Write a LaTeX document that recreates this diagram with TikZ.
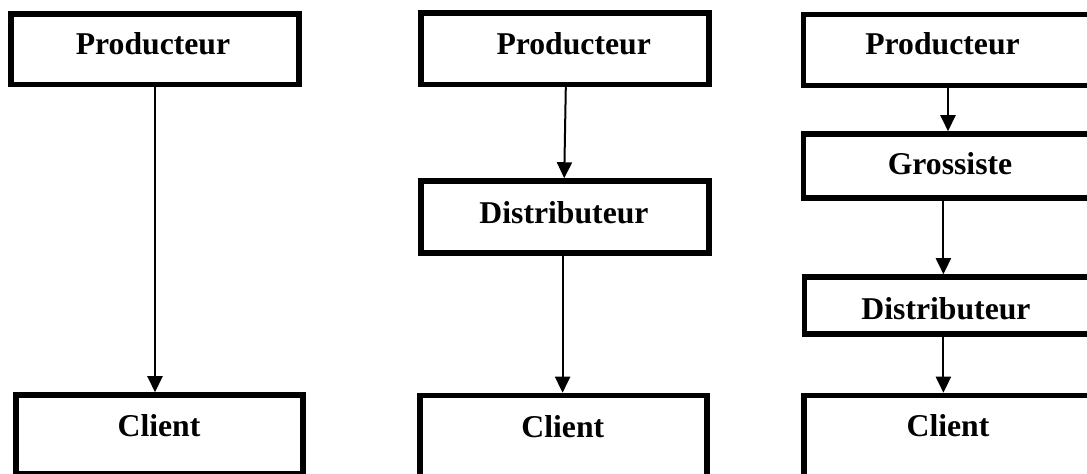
\documentclass[tikz,border=0pt]{standalone}
\usepackage{fontspec}
\setmainfont{Liberation Serif}
\usetikzlibrary{arrows.meta}
\begin{document}
\begin{tikzpicture}[x=0.5pt,y=-0.5pt,
  box/.style={draw=black,line width=2.75pt,fill=white,rectangle,inner sep=0pt},
  lbl/.style={font=\fontsize{15.85pt}{18pt}\selectfont\bfseries,anchor=base,inner sep=0pt},
  arr/.style={draw=black,line width=1pt,-{Triangle[length=8pt,width=7.5pt]}}]
\useasboundingbox (0,0) rectangle (1087,474);
% column 1
\node[box,minimum width=144pt,minimum height=35.25pt] (p1) at (155,49.25) {};
\node[box,minimum width=143.5pt,minimum height=39.25pt] (c1) at (159.5,434.25) {};
\node[lbl] (p1t) at (153,55) {Producteur};
\node[lbl] (c1t) at (159,436.7) {Client};
\draw[arr] (p1.south) -- (p1.south |- c1.north);
% column 2
\node[box,minimum width=144pt,minimum height=35.75pt] (p2) at (565,48.75) {};
\node[box,minimum width=144pt,minimum height=36pt] (d2) at (565,217) {};
\node[box,minimum width=143.5pt,minimum height=52.25pt] (c2) at (563.5,447.75) {};
\node[lbl] (p2t) at (573.7,55) {Producteur};
\node[lbl] (d2t) at (564,223.3) {Distributeur};
\node[lbl] (c2t) at (562.8,437.3) {Client};
\draw[arr] ([xshift=0.4pt]p2.south) -- ([xshift=-0.4pt]d2.north);
\draw[arr] ([xshift=-1.2pt]d2.south) -- ([xshift=-1.2pt]d2.south |- c2.north);
% column 3
\node[box,minimum width=144.3pt,minimum height=35.5pt] (p3) at (948,50) {};
\node[box,minimum width=144.3pt,minimum height=32pt] (g3) at (948,166) {};
\node[box,minimum width=143.9pt,minimum height=28.5pt] (d3) at (948.4,305.5) {};
\node[box,minimum width=144pt,minimum height=52.25pt] (c3) at (948,447.75) {};
\node[lbl] (p3t) at (942.5,55) {Producteur};
\node[lbl] (g3t) at (950,175) {Grossiste};
\node[lbl] (d3t) at (946,320) {Distributeur};
\node[lbl] (c3t) at (948,436.7) {Client};
\draw[arr] (p3.south) -- (p3.south |- g3.north);
\draw[arr] ([xshift=-2.3pt]g3.south) -- ([xshift=-2.3pt]g3.south |- d3.north);
\draw[arr] ([xshift=-2.5pt]d3.south) -- ([xshift=-2.5pt]d3.south |- c3.north);
\end{tikzpicture}
\end{document}
